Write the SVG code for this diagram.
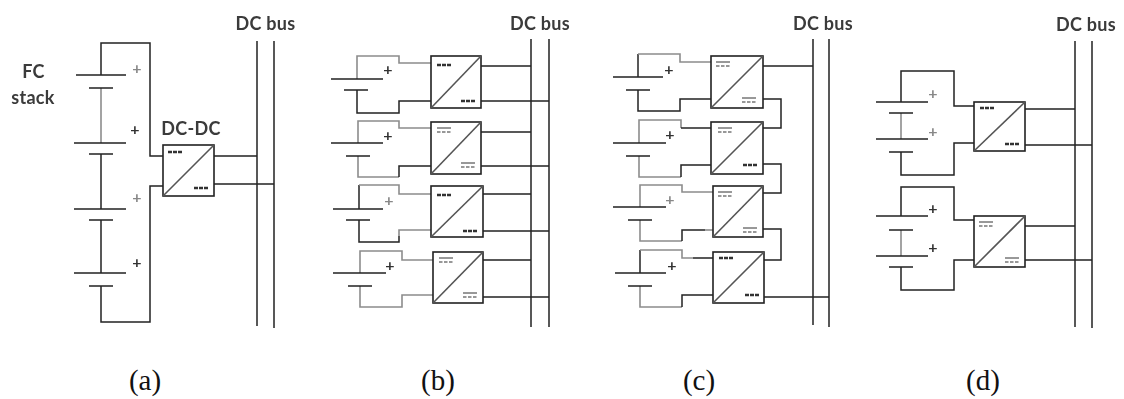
<svg xmlns="http://www.w3.org/2000/svg" width="1124" height="399" viewBox="0 0 1124 399">
<style>
.w{fill:none;stroke:#222;stroke-width:1.5}
.g{fill:none;stroke:#8c8c8c;stroke-width:1.6}
.box{fill:#fff;stroke:#222;stroke-width:1.6}
.diag{stroke:#555;stroke-width:1.6}
.t{font-family:Lato,"Open Sans",sans-serif;font-weight:700;font-size:18px;letter-spacing:.3px;fill:#3a3a3a;text-anchor:middle}
.p{font-family:Lato,sans-serif;font-weight:700;font-size:16px;fill:#333;text-anchor:middle}
.pg{font-family:Lato,sans-serif;font-weight:700;font-size:16px;fill:#888;text-anchor:middle}
.c{font-family:"Liberation Serif","Times New Roman",serif;font-size:29px;fill:#111;text-anchor:middle}
</style>
<defs>
<filter id="soft" x="-2%" y="-2%" width="104%" height="104%"><feGaussianBlur stdDeviation="0.35"/></filter>
<g id="m"><path d="M0 0h14" stroke="#333" stroke-width="2.4" stroke-dasharray="4 1"/></g>
<g id="d"><path d="M0 0h14" stroke="#333" stroke-width="1"/><path d="M0 4h14" stroke="#333" stroke-width="1.2" stroke-dasharray="3.5 1.5"/></g>
</defs>
<g filter="url(#soft)">
<g id="connectors">
<!-- a -->
<path class="w" d="M101 75V43H150V156H163M163 186H150V322H101V286"/>
<path class="g" d="M101 88V143"/>
<path class="w" d="M101 154V209M101 220V273M214 156H257M212 184H274"/>
<path class="w" d="M257 41V326M274 41V328"/>
<!-- b -->
<path class="g" d="M357 79V56H399V63H431"/>
<path class="w" d="M357 90V113H399V101H431"/>
<path class="g" d="M358 143V121H399V128H431M358 156V177H399"/>
<path class="w" d="M399 177V166H431"/>
<path class="w" d="M359 209V185"/><path class="g" d="M359 185H399V194H431"/>
<path class="w" d="M359 220V242H399V236"/><path class="g" d="M399 236V230H431"/>
<path class="g" d="M360 273V251H402V260H433M360 286V307H402V295H433"/>
<path class="w" d="M481 66H531M481 101H549M481 132H531M481 166H549M483 194H531M483 231H549M483 260H531M483 297H549"/>
<path class="w" d="M531 39V327M549 39V327"/>
<!-- c -->
<path class="w" d="M638 77V54"/><path class="g" d="M638 54H680V62H711"/>
<path class="w" d="M638 90V111H680V99H711"/>
<path class="g" d="M639 143V120H681V128"/><path class="w" d="M681 128H711"/>
<path class="g" d="M639 156V177H681"/><path class="w" d="M681 177V165H711"/>
<path class="g" d="M640 207V185H682V192H713M640 220V241H682"/><path class="w" d="M682 241V230H705"/><path class="g" d="M705 230H713"/>
<path class="w" d="M640 273V250"/><path class="g" d="M640 250H682V258H693M640 286V307H682"/><path class="w" d="M693 258H713M682 307V295H713"/>
<path class="w" d="M763 66H813M763 99H781V128H763M763 164H781V193H763M763 229H781V260H764M764 297H829"/>
<path class="w" d="M813 39V325M829 39V327"/>
<!-- d -->
<path class="w" d="M901 102V71H954V106H974M974 143H954V175H901V152"/>
<path class="g" d="M901 113V139"/>
<path class="w" d="M901 216V187H954V220H974M974 260H954V290H901V267"/>
<path class="g" d="M901 230V256"/>
<path class="w" d="M1025 109H1075M1025 145H1092M1025 226H1075M1025 260H1092"/>
<path class="w" d="M1075 41V327M1092 41V328"/>
</g>
<g id="fc-a" class="w"><path d="M76 75H126M89 88H113M74 143H126M89 154H113M74 209H126M89 220H113M74 273H126M89 286H113"/></g>
<g id="fc-b" class="w"><path d="M331 79H383M344 90H368M331 143H383M346 156H370M333 209H383M346 220H370M333 273H386M348 286H372"/></g>
<g id="fc-c" class="w"><path d="M613 77H663M626 90H650M613 143H666M626 156H650M613 207H666M628 220H652M615 273H666M628 286H652"/></g>
<g id="fc-d" class="w"><path d="M876 102H928M889 113H913M876 139H928M889 152H913M876 216H928M889 230H913M876 256H928M889 267H913"/></g>
<g id="conv-a"><rect class="box" x="163" y="145" width="51" height="51"/><path class="diag" d="M163 196L214 145"/><use href="#m" x="168" y="152"/><use href="#m" x="194" y="188"/></g>
<g id="conv-b1"><rect class="box" x="431" y="56" width="50" height="52"/><path class="diag" d="M431 108L481 56"/><use href="#m" x="437" y="65"/><use href="#m" x="461" y="101"/></g>
<g id="conv-b2"><rect class="box" x="431" y="122" width="50" height="52"/><path class="diag" d="M431 174L481 122"/><use href="#d" x="437" y="128"/><use href="#d" x="461" y="163"/></g>
<g id="conv-b3"><rect class="box" x="431" y="186" width="52" height="51"/><path class="diag" d="M431 237L483 186"/><use href="#m" x="437" y="195"/><use href="#m" x="463" y="231"/></g>
<g id="conv-b4"><rect class="box" x="433" y="252" width="50" height="51"/><path class="diag" d="M433 303L483 252"/><use href="#d" x="439" y="258"/><use href="#d" x="463" y="293"/></g>
<g id="conv-c1"><rect class="box" x="711" y="56" width="52" height="52"/><path class="diag" d="M711 108L763 56"/><use href="#d" x="716" y="62"/><use href="#d" x="742" y="98"/></g>
<g id="conv-c2"><rect class="box" x="711" y="122" width="52" height="52"/><path class="diag" d="M711 174L763 122"/><use href="#d" x="718" y="128"/><use href="#m" x="743" y="165"/></g>
<g id="conv-c3"><rect class="box" x="713" y="186" width="50" height="51"/><path class="diag" d="M713 237L763 186"/><use href="#d" x="718" y="192"/><use href="#d" x="743" y="228"/></g>
<g id="conv-c4"><rect class="box" x="713" y="252" width="51" height="51"/><path class="diag" d="M713 303L764 252"/><use href="#m" x="719" y="258"/><use href="#m" x="745" y="295"/></g>
<g id="conv-d1"><rect class="box" x="974" y="102" width="51" height="49"/><path class="diag" d="M974 151L1025 102"/><use href="#m" x="980" y="108"/><use href="#m" x="1005" y="144"/></g>
<g id="conv-d2"><rect class="box" x="974" y="216" width="51" height="51"/><path class="diag" d="M974 267L1025 216"/><use href="#d" x="979" y="222"/><use href="#d" x="1005" y="258"/></g>
<g id="labels">
<text class="t" x="265.500" y="30">DC bus</text>
<text class="t" x="540" y="30">DC bus</text>
<text class="t" x="823" y="30">DC bus</text>
<text class="t" x="1086" y="31">DC bus</text>
<text class="t" x="33.500" y="78">FC</text>
<text class="t" x="33" y="104">stack</text>
<text class="t" x="191" y="135">DC-DC</text>
<text class="pg" x="137" y="74">+</text><text class="p" x="135" y="135">+</text><text class="pg" x="137" y="203">+</text><text class="p" x="137" y="268">+</text>
<text class="p" x="388" y="75">+</text><text class="p" x="388" y="141">+</text><text class="pg" x="389" y="206">+</text><text class="p" x="390" y="271">+</text>
<text class="p" x="669" y="75">+</text><text class="p" x="670" y="140">+</text><text class="pg" x="670" y="205">+</text><text class="p" x="672" y="271">+</text>
<text class="pg" x="933" y="99">+</text><text class="pg" x="933" y="137">+</text><text class="p" x="933" y="214">+</text><text class="p" x="933" y="253">+</text>
</g>
</g>
<g id="captions">
<text class="c" x="145" y="390">(a)</text>
<text class="c" x="438" y="390">(b)</text>
<text class="c" x="699" y="390">(c)</text>
<text class="c" x="983" y="390">(d)</text>
</g>
</svg>
